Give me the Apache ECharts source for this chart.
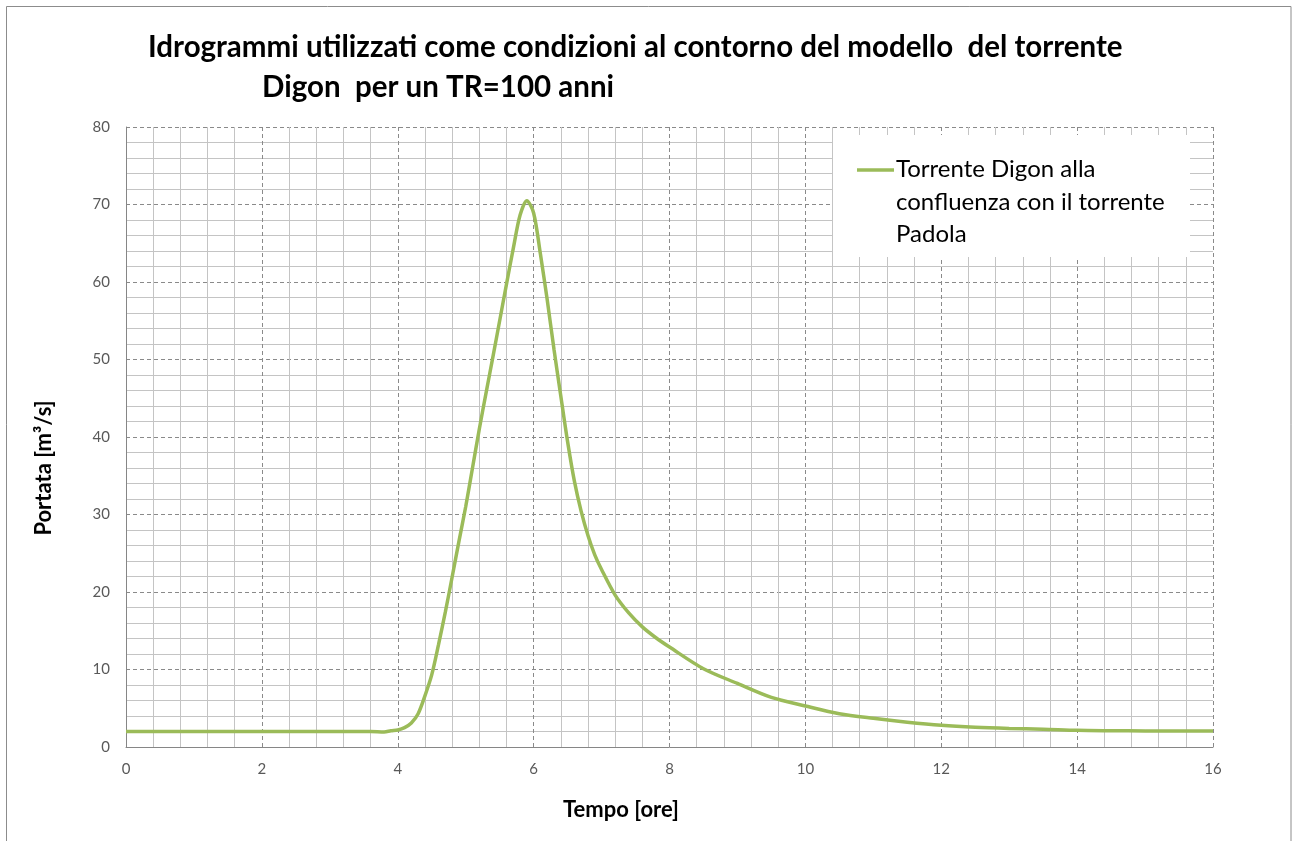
<!DOCTYPE html>
<html>
<head>
<meta charset="utf-8">
<title>Idrogrammi Digon TR=100</title>
<script src="https://cdn.jsdelivr.net/npm/echarts@6/dist/echarts.min.js"></script>
<style>
  html, body { margin: 0; padding: 0; background: #fff; }
  #chart { width: 1292px; height: 841px; }
</style>
</head>
<body>
<div id="chart"></div>
<script>
// Hydrograph: time [hours] and discharge [m³/s]
const timeHours = [0, 1, 2, 3, 3.6, 3.8, 3.9, 4.0, 4.1, 4.2, 4.3, 4.4, 4.5, 4.6, 4.7, 4.8, 4.9,
  5.0, 5.1, 5.2, 5.3, 5.4, 5.5, 5.6, 5.7, 5.8, 5.9, 6.0, 6.1, 6.2, 6.3, 6.4, 6.5, 6.6, 6.7,
  6.8, 6.9, 7.0, 7.2, 7.4, 7.6, 7.8, 8.0, 8.5, 9.0, 9.5, 10, 10.5, 11, 11.5, 12, 12.5, 13,
  13.5, 14, 14.5, 15, 15.5, 16];
const flowValues = [2.0, 2.0, 2.0, 2.0, 2.0, 1.95, 2.1, 2.2, 2.5, 3.1, 4.3, 6.6, 9.3, 13.2, 17.4, 21.9, 26.5,
  31.0, 36.0, 41.0, 45.7, 50.3, 55.0, 59.7, 64.3, 68.6, 70.5, 68.9, 63.6, 57.7, 51.3, 45.3, 39.4, 34.3, 30.4,
  27.3, 24.8, 22.9, 19.6, 17.3, 15.5, 14.1, 12.9, 10.1, 8.2, 6.4, 5.3, 4.3, 3.7, 3.2, 2.8, 2.55, 2.4,
  2.3, 2.15, 2.1, 2.07, 2.05, 2.05];

const seriesName = 'Torrente Digon alla confluenza con il torrente Padola';
const legendLines = ['Torrente Digon alla', 'confluenza con il torrente', 'Padola'];
const titleLine1 = 'Idrogrammi utilizzati come condizioni al contorno del modello  del torrente';
const titleLine2 = 'Digon  per un TR=100 anni';
const xAxisTitle = 'Tempo [ore]';
const yAxisTitle = 'Portata [m³/s]';

const lineColor = '#9BBB59';
const chart = echarts.init(document.getElementById('chart'), null, { renderer: 'canvas' });

const points = timeHours.map((t, i) => [t, flowValues[i]]);

const majorGrid = { show: true, lineStyle: { color: '#8a8a8a', width: 1, type: [4, 3] } };
const minorGrid = { show: true, lineStyle: { color: '#c4c4c4', width: 1 } };
const tickLabel = { color: '#595959', fontFamily: 'Lato', fontSize: 15 };
const titleFont = { fontFamily: 'Lato', fontWeight: 'bold', fontSize: 29.5, color: '#000' };

chart.setOption({
  backgroundColor: '#ffffff',
  animation: false,
  title: [
    { text: titleLine1, left: 143, top: 27, textStyle: titleFont },
    { text: titleLine2, left: 257, top: 67, textStyle: titleFont }
  ],
  grid: { left: 126, right: 79, top: 127, bottom: 94, containLabel: false },
  xAxis: {
    type: 'value', min: 0, max: 16, interval: 2,
    axisLine: { show: true, lineStyle: { color: '#868686', width: 1 } },
    axisTick: { show: false },
    minorTick: { show: false, splitNumber: 5 },
    splitLine: majorGrid,
    minorSplitLine: minorGrid,
    axisLabel: Object.assign({ margin: 15 }, tickLabel)
  },
  yAxis: {
    type: 'value', min: 0, max: 80, interval: 10,
    axisLine: { show: true, lineStyle: { color: '#868686', width: 1 } },
    axisTick: { show: false },
    minorTick: { show: false, splitNumber: 5 },
    splitLine: majorGrid,
    minorSplitLine: minorGrid,
    axisLabel: Object.assign({ margin: 16 }, tickLabel)
  },
  series: [{
    name: seriesName,
    type: 'line',
    data: points,
    smooth: 0.3,
    showSymbol: false,
    lineStyle: { color: lineColor, width: 3.5 },
    z: 3
  }],
  graphic: [
    // chart frame
    { type: 'rect', silent: true, z: 0,
      shape: { x: 6.5, y: 6.5, width: 1284.5, height: 850 },
      style: { fill: 'none', stroke: '#8c8c8c', lineWidth: 1 } },
    // legend box
    { type: 'rect', silent: true, z: 10,
      shape: { x: 833, y: 135, width: 357, height: 122 },
      style: { fill: '#ffffff', stroke: 'none' } },
    { type: 'line', silent: true, z: 11,
      shape: { x1: 857, y1: 170, x2: 894, y2: 170 },
      style: { stroke: lineColor, lineWidth: 3.5 } },
    { type: 'text', silent: true, z: 11, x: 896, y: 153.5,
      style: { text: legendLines.join('\n'), fontFamily: 'Lato', fontSize: 24,
               lineHeight: 32.5, fill: '#000', verticalAlign: 'top', align: 'left' } },
    // axis titles
    { type: 'text', silent: true, z: 11, x: 621, y: 810,
      style: { text: xAxisTitle, fontFamily: 'Lato', fontWeight: 'bold', fontSize: 22,
               fill: '#000', align: 'center', verticalAlign: 'middle' } },
    { type: 'text', silent: true, z: 11, x: 44, y: 468, rotation: Math.PI / 2,
      style: { text: yAxisTitle, fontFamily: 'Lato', fontWeight: 'bold', fontSize: 22,
               fill: '#000', align: 'center', verticalAlign: 'middle' } }
  ]
});
</script>
</body>
</html>
